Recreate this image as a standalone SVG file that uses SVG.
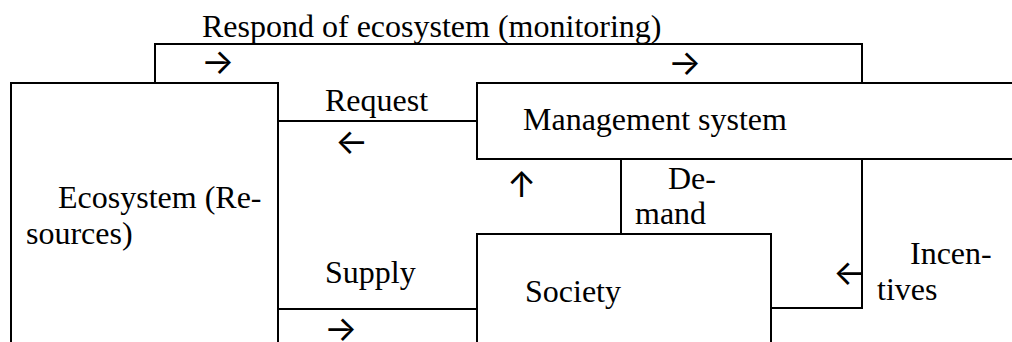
<svg xmlns="http://www.w3.org/2000/svg" width="1012" height="342" viewBox="0 0 1012 342">
<style>
.ln{fill:none;stroke:#000;stroke-width:2}
.t{font-family:"Liberation Serif","Times New Roman",serif;font-size:32px;fill:#000}
.ar{font-family:Inter,"DejaVu Sans",sans-serif;font-size:35px;fill:#000}
</style>
<rect width="1012" height="342" fill="#fff"/>
<g id="connectors">
<path class="ln" d="M155,83 V44 H862 V83"/>
<path class="ln" d="M278,121 H477"/>
<path class="ln" d="M278,309 H477"/>
<path class="ln" d="M621,159 V234"/>
<path class="ln" d="M862,159 V308 H771"/>
<text class="t" x="202" y="37">Respond of ecosystem (monitoring)</text>
<text class="ar" x="201" y="74">→</text>
<text class="ar" x="668" y="75">→</text>
<text class="t" x="325" y="111">Request</text>
<text class="ar" x="335" y="154">←</text>
<text class="ar" x="507" y="197">↑</text>
<text class="t" x="668" y="189">De-</text>
<text class="t" x="635" y="224">mand</text>
<text class="t" x="325" y="283">Supply</text>
<text class="ar" x="324" y="341">→</text>
<text class="ar" x="833" y="285">←</text>
<text class="t" x="910" y="264">Incen-</text>
<text class="t" x="877" y="300">tives</text>
</g>
<g id="ecosystem">
<path class="ln" d="M11,345 V83 H278 V345"/>
<text class="t" x="58" y="208">Ecosystem (Re-</text>
<text class="t" x="26" y="244">sources)</text>
</g>
<g id="management">
<path class="ln" d="M1015,83 H477 V159 H1015"/>
<text class="t" x="523" y="130">Management system</text>
</g>
<g id="society">
<path class="ln" d="M477,345 V234 H771 V345"/>
<text class="t" x="525" y="302">Society</text>
</g>
</svg>
